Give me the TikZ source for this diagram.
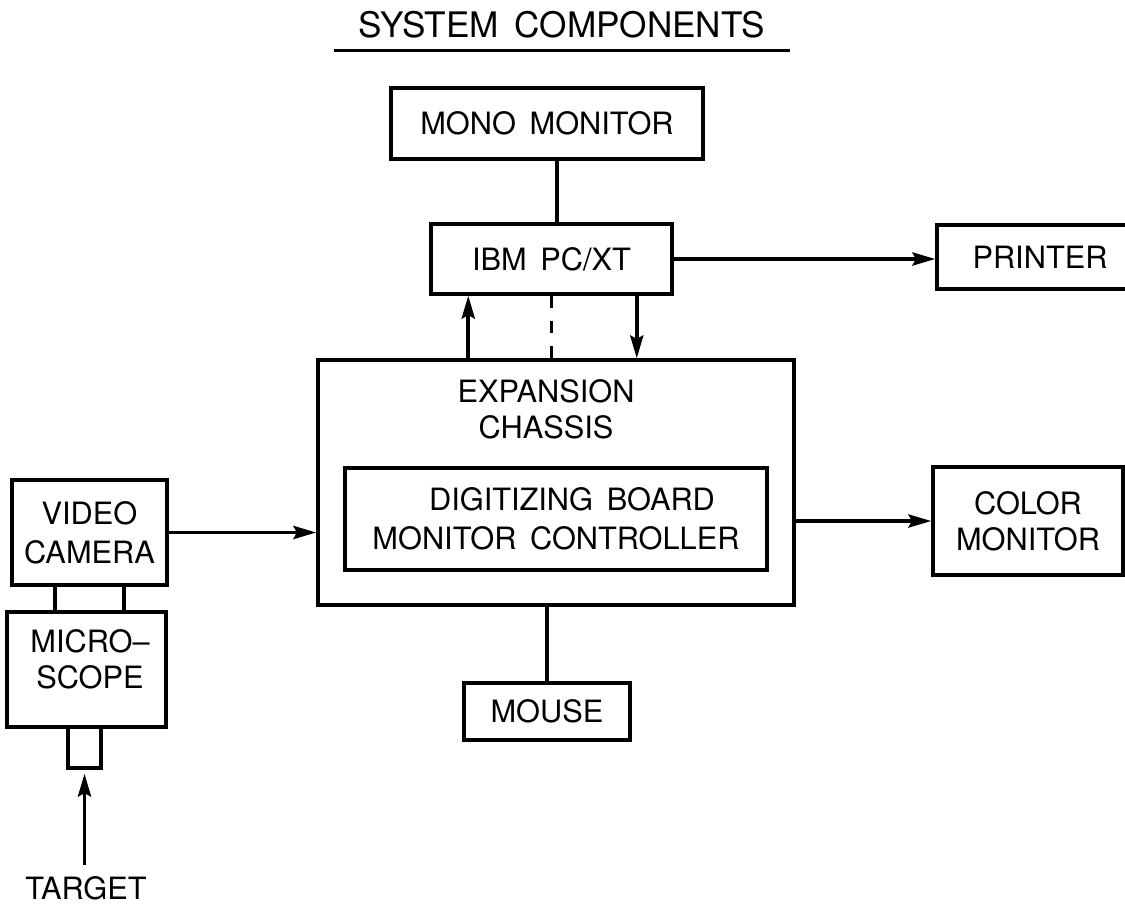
\documentclass[tikz,border=0pt]{standalone}
\usepackage{fontspec}
\setmainfont{TeX Gyre Heros}[WordSpace=1.6]
\usepackage{tikz}
\usetikzlibrary{positioning,arrows.meta,calc}

\begin{document}
\begin{tikzpicture}[>={Stealth[length=13pt,width=7.5pt,inset=2pt]},line width=2pt,
  blk/.style={draw,inner sep=0pt,align=center,font=\fontsize{17.5}{22}\selectfont},
  txt/.style={inner sep=0pt,align=center,font=\fontsize{17.5}{20.5}\selectfont}]
  \useasboundingbox (0,0) rectangle (22.5,-18.12);
  % ---- title ----
  \node[txt,font=\fontsize{20}{24}\selectfont] (title) at (11.24,-0.49) {SYSTEM COMPONENTS};
  \draw ([xshift=-0.46cm,yshift=-0.22cm]title.south west) -- ([xshift=0.46cm,yshift=-0.22cm]title.south east);
  % ---- host side ----
  \node[blk,minimum width=6.24cm,minimum height=1.42cm] (mono) at (10.94,-2.47) {MONO MONITOR};
  \node[blk,minimum width=4.82cm,minimum height=1.40cm] (ibm) at (11.03,-5.18) {IBM PC/XT};
  \node[blk,minimum width=4.12cm,minimum height=1.28cm] (printer) at (20.8,-5.14) {PRINTER};
  \draw ([xshift=0.2cm]mono.south) -- ([xshift=0.2cm]mono.south |- ibm.north);
  \draw[->] (ibm.east) -- (ibm.east -| printer.west);
  % ---- chassis with board ----
  \node[blk,minimum width=9.52cm,minimum height=4.9cm] (chassis) at (11.12,-9.65) {};
  \node[txt] (chassislbl) at (10.92,-8.18) {EXPANSION\\CHASSIS};
  \node[blk,minimum width=8.44cm,minimum height=2.04cm] (board) at (11.12,-10.38)
    {\hspace*{0.64cm}DIGITIZING BOARD\\MONITOR CONTROLLER};
  \draw[->] ([xshift=0.78cm]ibm.south west |- chassis.north) -- ([xshift=0.78cm]ibm.south west);
  \draw[dash pattern=on 0.24cm off 0.26cm] (ibm.south) -- (ibm.south |- chassis.north);
  \draw[->] ([xshift=-0.74cm]ibm.south east) -- ([xshift=-0.74cm]ibm.south east |- chassis.north);
  % ---- optics ----
  \node[blk,minimum width=3.10cm,minimum height=2.10cm] (camera) at (1.79,-10.65) {VIDEO\\CAMERA};
  \node[blk,minimum width=3.18cm,minimum height=2.30cm] (scope) at (1.73,-13.39) {};
  \node[txt] (scopelbl) at (1.8,-13.18) {MICRO--\\SCOPE};
  \node[draw,inner sep=0pt,minimum width=0.66cm,minimum height=0.82cm] (lens) at (1.69,-14.95) {};
  \node[txt] (target) at (1.72,-17.77) {TARGET};
  \foreach \side/\dx in {south west/0.9cm,south east/-0.9cm}
    \draw ([xshift=\dx]camera.\side) -- ([xshift=\dx]camera.\side |- scope.north);
  \draw[->,shorten <=0.2cm,shorten >=0.08cm] (target.north -| lens.south) -- (lens.south);
  \draw[->] (camera.east) -- (camera.east -| chassis.west);
  % ---- outputs ----
  \node[blk,minimum width=3.80cm,minimum height=2.16cm,font=\fontsize{17.5}{20.5}\selectfont] (color) at (20.56,-10.42) {COLOR\\MONITOR};
  \node[blk,minimum width=3.32cm,minimum height=1.14cm] (mouse) at (10.94,-14.23) {MOUSE};
  \draw[->] (color.west -| chassis.east) -- (color.west);
  \draw (mouse.north) -- (mouse.north |- chassis.south);
\end{tikzpicture}
\end{document}
